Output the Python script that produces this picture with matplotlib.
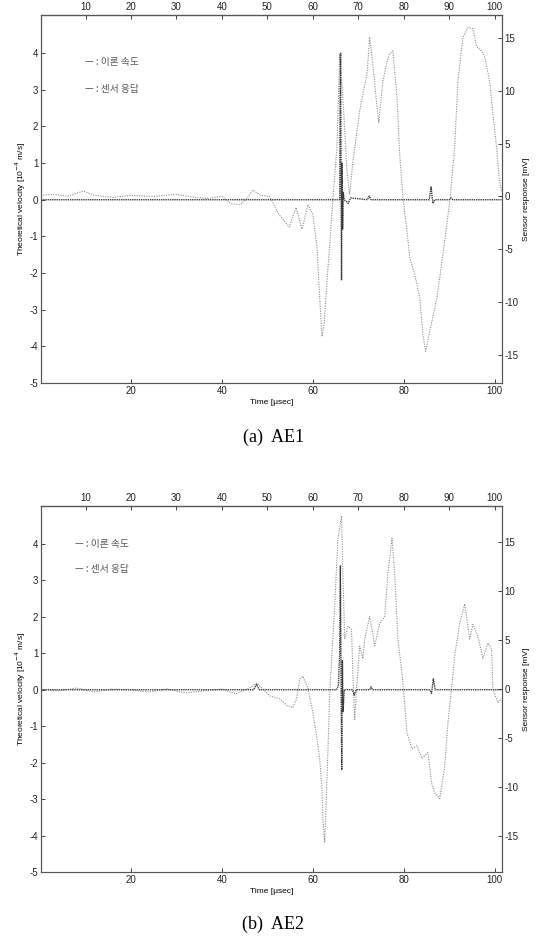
#AE sensor response vs theoretical velocity, two panels (AE1 / AE2)
import numpy as np
import matplotlib as mpl
mpl.use("Agg")
import matplotlib.pyplot as plt

mpl.rcParams['font.family'] = ['Liberation Sans', 'Noto Sans CJK KR', 'DejaVu Sans']
mpl.rcParams['axes.linewidth'] = 0.8
mpl.rcParams['axes.unicode_minus'] = False

#%%
#data
#panel (a) AE1 - sensor response [mV] (right axis)
t_sens_a = [0.2, 3, 6, 9.5, 12, 16, 20, 25, 30, 34, 37, 40, 42, 44, 45.5, 46.8, 48.5,
            50.5, 52.5, 54.8, 56.3, 57.6, 58.9, 60.0, 60.9, 61.5, 62.0, 62.5, 63.1, 63.7,
            64.4, 65.3, 65.9, 66.6, 67.5, 68.1, 68.8, 69.7, 70.3, 71.0, 71.9, 72.5, 73.2,
            74.1, 74.5, 75.4, 76.3, 76.9, 77.6, 78.5, 79.1, 79.8, 80.7, 81.3, 82.4, 83.5,
            84.2, 84.8, 85.7, 87.3, 88.6, 90.1, 91.2, 91.9, 93.0, 94.1, 95.2, 96.0, 97.1,
            97.8, 98.9, 99.6, 100.4, 101.0, 101.5]
sens_a = [0.1, 0.2, 0.0, 0.5, 0.1, -0.1, 0.1, 0.0, 0.2, -0.1, -0.2, 0.0, -0.7, -0.8, -0.2,
          0.6, 0.1, 0.0, -1.7, -2.9, -1.05, -3.1, -0.8, -1.7, -4.8, -9.6, -13.3, -12.0,
          -8.1, -4.6, -0.3, 4.7, 13.5, 9.4, 2.4, 0.2, 3.3, 6.2, 8.1, 9.7, 11.6, 15.1, 12.5,
          8.5, 7.0, 10.9, 12.8, 13.5, 13.8, 9.4, 4.0, -0.1, -3.3, -5.8, -7.4, -9.6, -13.1,
          -14.7, -12.8, -9.6, -5.5, -0.5, 4.7, 10.9, 15.1, 16.0, 15.9, 14.2, 13.8, 13.2,
          10.9, 7.8, 4.7, 1.6, 0.5]

#panel (a) AE1 - theoretical velocity [1e-4 m/s] (left axis)
t_theo_a = [0.2, 45, 60, 64.5, 65.9, 66.0, 66.1, 66.2, 66.3, 66.45, 66.55, 66.7, 66.9,
            67.8, 68.3, 72.0, 72.4, 72.8, 80.0, 85.6, 86.0, 86.4, 86.8, 90.0, 90.4, 90.8,
            101.5]
theo_a = [0, 0, 0, 0, 0, 3.0, 4.0, 0.5, -2.2, 1.0, -0.8, 0.2, 0,
          -0.1, 0.05, 0, 0.1, 0, 0, 0, 0.35, -0.1, 0, 0, 0.05, 0, 0]

#panel (b) AE2 - sensor response [mV]
t_sens_b = [0.2, 4, 8, 12, 16, 20, 24, 28, 32, 36, 40, 43, 46, 47.7, 49, 50.5, 52.7, 54.3,
            55.6, 56.4, 57.1, 57.8, 58.9, 60.0, 60.9, 61.5, 62.0, 62.2, 62.6, 63.2, 63.7,
            64.8, 65.5, 66.3, 66.6, 67.0, 67.7, 68.5, 68.8, 69.2, 69.6, 70.3, 71.0, 71.4,
            72.5, 73.6, 74.7, 75.8, 76.5, 77.4, 78.0, 78.7, 79.6, 80.0, 80.7, 81.8, 82.9,
            84.0, 85.3, 86.1, 86.8, 87.9, 89.0, 89.7, 90.5, 91.2, 92.3, 93.4, 94.5, 95.2,
            96.3, 97.4, 98.5, 99.3, 99.6, 100.7, 101.5]
sens_b = [0.0, -0.2, 0.1, -0.3, 0.0, -0.1, -0.3, 0.0, -0.4, -0.2, 0.0, -0.5, 0.1, 0.6,
          0.0, -0.7, -1.0, -1.7, -1.9, -1.0, 1.0, 1.3, 0.1, -2.4, -5.1, -7.1, -10.2, -13.3,
          -15.7, -8.0, -0.4, 8.5, 15.3, 17.7, 11.8, 5.1, 6.4, 6.1, 1.6, -3.1, 0.0, 4.4, 3.1,
          5.1, 7.4, 4.4, 6.7, 7.4, 11.8, 15.4, 11.8, 5.1, 1.6, -0.4, -4.5, -6.1, -5.8, -7.1,
          -6.5, -9.6, -10.6, -11.2, -7.9, -3.5, 0.0, 3.4, 6.7, 8.7, 5.1, 6.6, 5.4, 3.1, 4.7,
          4.1, 0.0, -1.4, -1.0]

#panel (b) AE2 - theoretical velocity
t_theo_b = [0.2, 47, 47.6, 48.2, 60, 65.2, 65.6, 65.9, 66.05, 66.2, 66.35, 66.5, 66.65,
            66.9, 68.7, 69.1, 69.5, 72.5, 72.8, 73.1, 85.7, 86.1, 86.5, 86.9, 101.5]
theo_b = [0, 0, 0.15, 0, 0, 0, 0.1, 1.0, 3.4, 0.3, -2.2, 0.8, -0.6,
          0, 0, -0.15, 0, 0, 0.08, 0, 0, -0.1, 0.3, 0, 0]

panels = [
    dict(t_s=t_sens_a, s=sens_a, t_t=t_theo_a, v=theo_a, ylim2=(-17.7, 17.2),
         rect=[41/547, 1-383/941, 461/547, 368/941], cap="(a)  AE1", cap_y=1-437/941,
         leg_x=9.8, leg_y=(3.77, 3.03)),
    dict(t_s=t_sens_b, s=sens_b, t_t=t_theo_b, v=theo_b, ylim2=(-18.7, 18.7),
         rect=[41/547, 1-872/941, 461/547, 366/941], cap="(b)  AE2", cap_y=1-924/941,
         leg_x=7.7, leg_y=(4.0, 3.3)),
]

#%%
fig = plt.figure(figsize=(5.47, 9.41), dpi=100)
tick_fs = 7
lab_fs = 6

for p in panels:
    ax = fig.add_axes(p['rect'])
    ax2 = ax.twinx()

    ax2.plot(p['t_s'], p['s'], linestyle=(0, (1, 1.2)), color='#8c8c8c', lw=0.8)
    ax.plot(p['t_t'], p['v'], linestyle=(0, (1, 0.6)), color='#3c3c3c', lw=1.0)
    ax.set_zorder(ax2.get_zorder() + 1)
    ax.patch.set_visible(False)

    ax.set_xlim(0.2, 101.6)
    ax.set_ylim(-5, 5.04)
    ax.set_yticks(np.arange(-5, 5))
    ax.set_xticks([20, 40, 60, 80, 100])
    ax2.set_ylim(*p['ylim2'])
    ax2.set_yticks([-15, -10, -5, 0, 5, 10, 15])

    top = ax.secondary_xaxis('top')
    top.set_xticks(np.arange(10, 101, 10))

    for a in (ax, ax2, top):
        a.tick_params(direction='in', length=3, width=0.6, labelsize=tick_fs, pad=2,
                      colors='#222222')
    for a in (ax, ax2):
        for s in a.spines.values():
            s.set_color('#555555')

    ax.set_xlabel('Time [\u03bcsec]', fontsize=lab_fs, labelpad=2)
    ax.set_ylabel('Theoretical velocity [10$^{-4}$ m/s]', fontsize=lab_fs, labelpad=1)
    ax2.set_ylabel('Sensor response [mV]', fontsize=lab_fs, labelpad=3)

    #legend drawn as plain text, like the original
    ax.text(p['leg_x'], p['leg_y'][0], '\u2014 : 이론 속도', fontsize=7, color='#555555',
            va='center', family=['Noto Sans CJK KR', 'DejaVu Sans'])
    ax.text(p['leg_x'], p['leg_y'][1], '\u2014 : 센서 응답', fontsize=7, color='#555555',
            va='center', family=['Noto Sans CJK KR', 'DejaVu Sans'])
    fig.text(0.5, p['cap_y'], p['cap'], ha='center', va='center', fontsize=13,
             family='Liberation Serif')

plt.savefig("out.png", dpi=100)
